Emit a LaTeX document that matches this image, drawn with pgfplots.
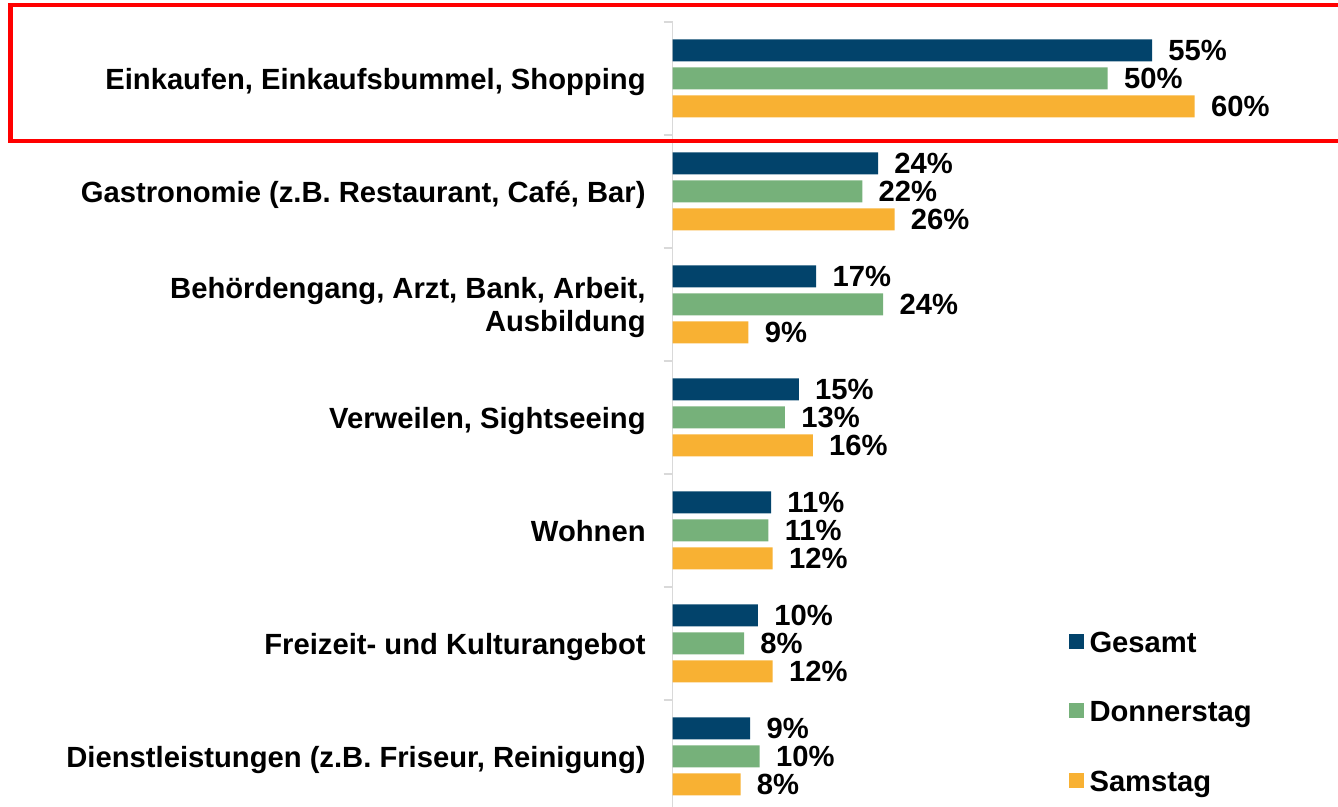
\documentclass[border=0pt]{standalone}
\usepackage{fontspec}
\setmainfont{Liberation Sans}
\usepackage{pgfplots}
\usepackage{pgfplotstable}
\pgfplotsset{compat=1.18}

\definecolor{cBlue}{HTML}{02436B}
\definecolor{cGreen}{HTML}{76B17A}
\definecolor{cOrange}{HTML}{F8B133}
\definecolor{cAxis}{HTML}{D9D9D9}

\pgfplotstableread{
y  ges  gesl don  donl sam  saml
0  55.1 55   50.0 50   60.0 60
-1 23.6 24   21.8 22   25.5 26
-2 16.5 17   24.2 24   8.7  9
-3 14.5 15   12.9 13   16.1 16
-4 11.3 11   11.0 11   11.5 12
-5 9.8  10   8.2  8    11.5 12
-6 8.9  9    10.0 10   7.8  8
}\datatable

\newcommand{\lblfont}{\bfseries\fontsize{14.6}{16.5}\selectfont}

\begin{document}
\begin{tikzpicture}[font=\lblfont]
\useasboundingbox (0,0) rectangle (669pt,403.5pt);
\begin{axis}[
  at={(336.35pt,0pt)}, anchor=south west,
  scale only axis, width=332.3pt, height=392.5pt,
  xmin=0, xmax=76.4, ymin=-6.447, ymax=0.5,
  clip=false,
  xbar, bar width=11pt,
  axis x line=none,
  axis y line=left,
  y axis line style={-, draw=cAxis, line width=0.6pt},
  ytick={0,-1,-2,-3,-4,-5,-6},
  yticklabels={{Einkaufen, Einkaufsbummel, Shopping},
               {Gastronomie (z.B. Restaurant, Café, Bar)},
               {Behördengang, Arzt, Bank, Arbeit,\\Ausbildung},
               {Verweilen, Sightseeing},
               {Wohnen},
               {Freizeit- und Kulturangebot},
               {Dienstleistungen (z.B. Friseur, Reinigung)}},
  minor ytick={0.5,-0.5,-1.5,-2.5,-3.5,-4.5,-5.5},
  major tick length=0pt,
  minor tick length=4.5pt,
  tick align=outside,
  ytick pos=left,
  tick style={draw=cAxis, line width=0.6pt},
  yticklabel style={font=\lblfont, align=right, inner sep=0pt, text depth=0pt, xshift=-13.35pt},
  point meta=explicit symbolic,
  nodes near coords={\pgfplotspointmeta\%},
  nodes near coords style={font=\lblfont, anchor=west, inner sep=0pt, text depth=0pt, xshift=8pt, text=black},
  legend style={at={(axis cs:45.49,-4.888)}, anchor=north west, draw=none, fill=none,
     inner sep=0pt, row sep=21.25pt, column sep=2.85pt,
     font=\lblfont,
     nodes={inner sep=0pt, text height=10.5pt, text depth=3pt}},
  legend cell align=left,
  legend image code/.code={\fill[#1] (0pt,-2.1pt) rectangle (7.5pt,5.4pt);},
]
\addplot[fill=cBlue, draw=none, bar shift=14pt] table[x=ges, y=y, meta=gesl] {\datatable};
\addplot[fill=cGreen, draw=none, bar shift=0pt] table[x=don, y=y, meta=donl] {\datatable};
\addplot[fill=cOrange, draw=none, bar shift=-14pt] table[x=sam, y=y, meta=saml] {\datatable};
\legend{Gesamt, Donnerstag, Samstag}
\end{axis}
\draw[red, line width=2.25pt] (5.25pt,401pt) rectangle (680pt,333pt);
\end{tikzpicture}
\end{document}
